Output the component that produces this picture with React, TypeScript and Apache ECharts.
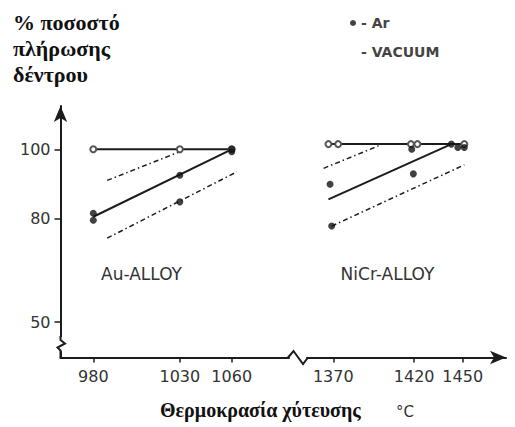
import React, { useEffect, useRef } from "react";
import * as echarts from "echarts";

// ---- data ----
const Y_TICKS = [50, 80, 100];
const AU_TICKS = [980, 1030, 1060];
const NICR_TICKS = [1370, 1420, 1450];

// Au-ALLOY
const auAr = [[980, 81.5], [980, 79.5], [1030, 92.5], [1030, 84.8], [1060, 100], [1060, 99.3]];
const auVacuum = [[980, 100], [1030, 100], [1060, 100]];
const auArFit = [[980, 80.5], [1060, 100]];
const auUpper = [[988, 91], [1030, 99.3]];
const auLower = [[988, 74.3], [1063, 93.5]];

// NiCr-ALLOY
const nicrAr = [[1368, 89.9], [1369, 77.8], [1418.5, 100], [1419.5, 92.9], [1443, 101.5], [1447, 100.5], [1451, 100.5]];
const nicrVacuum = [[1367, 101.5], [1373, 101.5], [1418, 101.5], [1422, 101.5], [1451, 101.5]];
const nicrArFit = [[1367, 85.5], [1443, 101.5]];
const nicrUpper = [[1364, 94.5], [1398, 101]];
const nicrLower = [[1369, 77.8], [1451, 95.5]];

const INK = "#1c1c1c";
const LABEL = "#333";
const DASHDOT = [5, 3, 1.5, 3];

export default function App() {
  const ref = useRef<HTMLDivElement>(null);

  useEffect(() => {
    if (!ref.current) return;
    const chart = echarts.init(ref.current, undefined, { renderer: "svg" });

    const axisLabelStyle = { color: LABEL, fontSize: 16, fontFamily: "DejaVu Sans" };
    const plain = (v: number) => String(v);

    const xAxisCommon = (min: number, max: number, ticks: number[], gridIndex: number, arrow: boolean) => ({
      type: "value",
      gridIndex,
      min,
      max,
      splitLine: { show: false },
      axisLine: {
        show: true,
        onZero: false,
        lineStyle: { color: INK, width: 2 },
        symbol: arrow ? ["none", "arrow"] : ["none", "none"],
        symbolSize: [10, 16],
      },
      axisTick: { show: true, inside: false, length: 5, lineStyle: { color: INK, width: 1.5 }, customValues: ticks },
      axisLabel: { show: true, margin: 11, ...axisLabelStyle, formatter: plain, customValues: ticks, hideOverlap: false },
    });

    const lineSeries = (name: string, data: number[][], xi: number, dashed: boolean, z: number) => ({
      name,
      type: "line",
      xAxisIndex: xi,
      yAxisIndex: xi,
      data,
      symbol: "none",
      silent: true,
      z,
      lineStyle: { color: INK, width: dashed ? 1.5 : 2, type: dashed ? DASHDOT : "solid" },
    });

    const vacuumSeries = (data: number[][], xi: number) => ({
      name: "VACUUM",
      type: "line",
      xAxisIndex: xi,
      yAxisIndex: xi,
      data,
      symbol: "emptyCircle",
      symbolSize: 6,
      showAllSymbol: true,
      silent: true,
      z: 4,
      itemStyle: { color: "#555", borderWidth: 1.2 },
      lineStyle: { color: INK, width: 2 },
    });

    const arSeries = (data: number[][], xi: number) => ({
      name: "Ar",
      type: "scatter",
      xAxisIndex: xi,
      yAxisIndex: xi,
      data,
      symbol: "circle",
      symbolSize: 7,
      silent: true,
      z: 6,
      itemStyle: { color: "#111" },
    });

    const option: any = {
      animation: false,
      backgroundColor: "#fff",
      grid: [
        { left: 60.5, top: 106, width: 228.5, height: 251.5, containLabel: false, outerBoundsMode: "none" },
        { left: 307, top: 106, width: 199, height: 251.5, containLabel: false, outerBoundsMode: "none" },
      ],
      xAxis: [
        xAxisCommon(961.04, 1093.1, AU_TICKS, 0, false),
        xAxisCommon(1353.74, 1476.77, NICR_TICKS, 1, true),
      ],
      yAxis: [
        {
          type: "value",
          gridIndex: 0,
          min: 39.8,
          max: 112.52,
          splitLine: { show: false },
          axisLine: {
            show: true,
            onZero: false,
            lineStyle: { color: INK, width: 2 },
            symbol: ["none", "arrow"],
            symbolSize: [10, 16],
          },
          axisTick: { show: true, inside: false, length: 6, lineStyle: { color: INK, width: 1.5 }, customValues: Y_TICKS },
          axisLabel: { show: true, margin: 10, ...axisLabelStyle, formatter: plain, customValues: Y_TICKS, hideOverlap: false },
        },
        { type: "value", gridIndex: 1, min: 39.8, max: 112.52, show: false },
      ],
      legend: {
        orient: "vertical",
        left: 344,
        top: 10,
        itemGap: 13,
        itemWidth: 6,
        itemHeight: 6,
        selectedMode: false,
        formatter: (name: string) => "- " + name,
        textStyle: { color: "#444", fontSize: 14, fontWeight: "bold", fontFamily: "DejaVu Sans", lineHeight: 16 },
        data: [
          { name: "Ar", icon: "circle", itemStyle: { color: "#111" } },
          { name: "VACUUM", icon: "emptyCircle", itemStyle: { color: "#fff", borderColor: "#aaa", borderWidth: 1 } },
        ],
      },
      series: [
        lineSeries("Au upper", auUpper, 0, true, 2),
        lineSeries("Au lower", auLower, 0, true, 2),
        lineSeries("Au Ar fit", auArFit, 0, false, 3),
        vacuumSeries(auVacuum, 0),
        arSeries(auAr, 0),
        lineSeries("NiCr upper", nicrUpper, 1, true, 2),
        lineSeries("NiCr lower", nicrLower, 1, true, 2),
        lineSeries("NiCr Ar fit", nicrArFit, 1, false, 3),
        vacuumSeries(nicrVacuum, 1),
        arSeries(nicrAr, 1),
      ],
      graphic: [
        // y-axis title
        ...["% ποσοστό", "πλήρωσης", "δέντρου"].map((t, i) => ({
          type: "text",
          x: 13,
          y: 22.6 + i * 26,
          z: 50,
          style: {
            text: t,
            font: "bold 22px 'Liberation Serif', 'DejaVu Serif', serif",
            fill: "#111",
            textAlign: "left",
            align: "left",
            textVerticalAlign: "middle",
            verticalAlign: "middle",
          },
        })),
        // x-axis title
        {
          type: "text",
          x: 160,
          y: 410,
          z: 50,
          style: {
            text: "Θερμοκρασία χύτευσης",
            font: "bold 20px 'Liberation Serif', 'DejaVu Serif', serif",
            fill: "#111",
            textAlign: "left",
            align: "left",
            textVerticalAlign: "middle",
            verticalAlign: "middle",
          },
        },
        {
          type: "text",
          x: 396,
          y: 412,
          z: 50,
          style: {
            text: "°C",
            font: "15px 'DejaVu Sans', sans-serif",
            fill: LABEL,
            textAlign: "left",
            align: "left",
            textVerticalAlign: "middle",
            verticalAlign: "middle",
          },
        },
        // panel labels
        {
          type: "text",
          x: 141.5,
          y: 274,
          z: 50,
          style: {
            text: "Au-ALLOY",
            font: "17px 'DejaVu Sans', sans-serif",
            fill: LABEL,
            textAlign: "center",
            align: "center",
            textVerticalAlign: "middle",
            verticalAlign: "middle",
          },
        },
        {
          type: "text",
          x: 387.5,
          y: 274,
          z: 50,
          style: {
            text: "NiCr-ALLOY",
            font: "17px 'DejaVu Sans', sans-serif",
            fill: LABEL,
            textAlign: "center",
            align: "center",
            textVerticalAlign: "middle",
            verticalAlign: "middle",
          },
        },
        // y-axis break
        { type: "rect", z: 60, shape: { x: 54, y: 337, width: 14, height: 14 }, style: { fill: "#fff" } },
        {
          type: "polyline",
          z: 61,
          shape: { points: [[60.5, 336], [60.5, 340], [65, 343.5], [57.5, 347.5], [60.5, 350.5], [60.5, 358]] },
          style: { stroke: INK, lineWidth: 2, fill: null },
        },
        // x-axis break
        {
          type: "polyline",
          z: 61,
          shape: { points: [[288, 357.5], [293.5, 351], [303, 364], [308, 357.5]] },
          style: { stroke: INK, lineWidth: 2, fill: null },
        },
      ],
    };

    chart.setOption(option);
    return () => chart.dispose();
  }, []);

  return (
    <div
      ref={ref}
      style={{ position: "fixed", left: 0, top: 0, width: 515, height: 427, background: "#fff" }}
    />
  );
}
